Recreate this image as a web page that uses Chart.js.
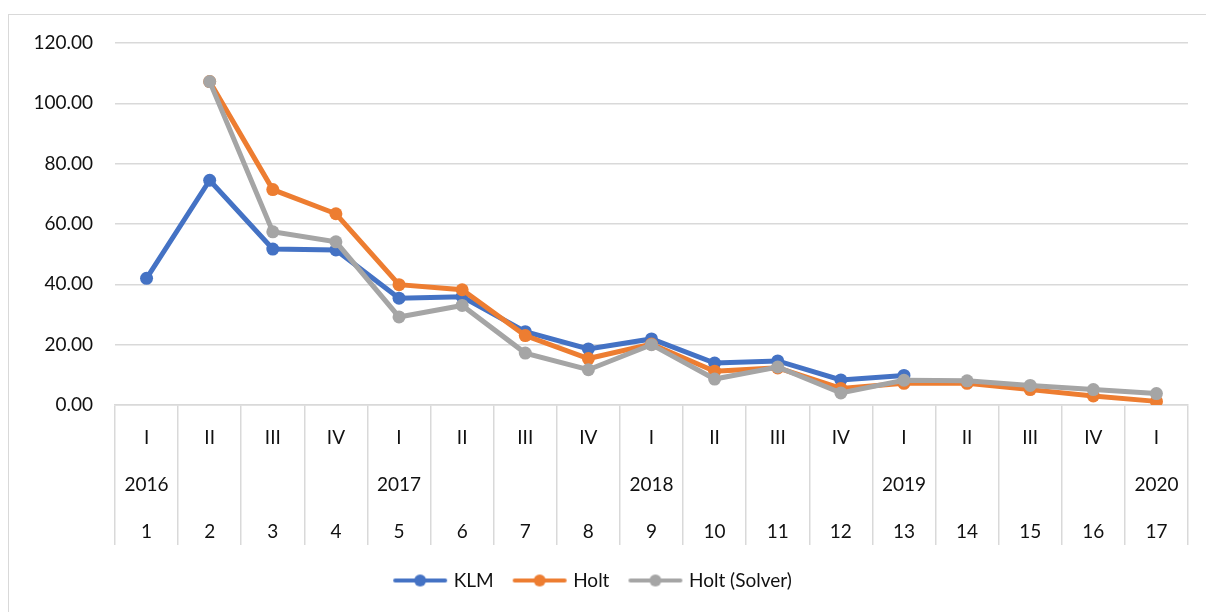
<!DOCTYPE html>
<html>
<head>
<meta charset="utf-8">
<script src="https://cdn.jsdelivr.net/npm/chart.js@4/dist/chart.umd.min.js"></script>
<style>
    body { margin: 0; background: #fff; }
    #wrap { position: relative; width: 1206px; height: 612px; overflow: hidden; }
    #frame { position: absolute; left: 8px; top: 14px; width: 1300px; height: 700px; border: 1px solid #d9d9d9; }
    #myChart { position: absolute; left: 0; top: 0; }
</style>
</head>
<body>
<div id="wrap">
    <div id="frame"></div>
    <canvas id="myChart" width="1206" height="612"></canvas>
</div>
<script>
// categories: quarter / year / period index
const quarters = ['I', 'II', 'III', 'IV', 'I', 'II', 'III', 'IV', 'I', 'II', 'III', 'IV', 'I', 'II', 'III', 'IV', 'I'],
    years = ['2016', '', '', '', '2017', '', '', '', '2018', '', '', '', '2019', '', '', '', '2020'],
    periods = ['1', '2', '3', '4', '5', '6', '7', '8', '9', '10', '11', '12', '13', '14', '15', '16', '17'],

    // series values
    klm = [42.0, 74.5, 51.7, 51.4, 35.4, 35.9, 24.3, 18.6, 21.9, 13.9, 14.6, 8.3, 9.8, null, null, null, null],
    holt = [null, 107.2, 71.4, 63.4, 39.9, 38.2, 23.0, 15.4, 20.2, 11.2, 12.3, 5.5, 7.2, 7.2, 5.1, 3.0, 1.2],
    holtSolver = [null, 107.2, 57.4, 54.1, 29.2, 33.0, 17.2, 11.7, 20.0, 8.6, 12.6, 4.0, 8.2, 8.0, 6.5, 5.1, 3.8],

    // y axis ticks
    yTicks = [0, 20, 40, 60, 80, 100, 120];

const seriesNames = ['KLM', 'Holt', 'Holt (Solver)'],
    seriesColors = ['#4472C4', '#ED7D31', '#A5A5A5'],
    fontFamily = 'Lato, "Liberation Sans", sans-serif',
    fontSize = 19,
    gridColor = '#d9d9d9';

// small line + dot swatch for the legend
function makeSwatch(color) {
    const c = document.createElement('canvas');
    c.width = 56;
    c.height = 14;
    const g = c.getContext('2d');
    g.strokeStyle = color;
    g.lineWidth = 4;
    g.lineCap = 'round';
    g.beginPath();
    g.moveTo(3, 7);
    g.lineTo(53, 7);
    g.stroke();
    g.fillStyle = color;
    g.beginPath();
    g.arc(28, 7, 6, 0, Math.PI * 2);
    g.fill();
    return c;
}

const swatches = seriesColors.map(makeSwatch);

function lineSet(i, data, order) {
    return {
        label: seriesNames[i],
        data: data,
        borderColor: seriesColors[i],
        backgroundColor: seriesColors[i],
        borderWidth: 5,
        pointRadius: 6.5,
        pointBorderWidth: 0,
        pointBackgroundColor: seriesColors[i],
        tension: 0,
        order: order
    };
}

const ctx = document.getElementById('myChart'),
    myChart = new Chart(ctx, {
        type: 'line',
        data: {
            labels: quarters.map((q, i) => [q, years[i], periods[i]]),
            datasets: [
                lineSet(0, klm, 2),
                lineSet(1, holt, 1),
                lineSet(2, holtSolver, 0)
            ]
        },
        options: {
            responsive: false,
            animation: false,
            layout: { padding: { left: 0, top: 43, right: 18, bottom: 12 } },
            scales: {
                x: {
                    offset: true,
                    afterFit: (scale) => { scale.height = 144; },
                    grid: {
                        offset: true,
                        drawOnChartArea: false,
                        drawTicks: true,
                        tickLength: 140,
                        color: gridColor,
                        lineWidth: 1.5
                    },
                    border: { color: gridColor, width: 1.5 },
                    ticks: {
                        autoSkip: false,
                        maxRotation: 0,
                        padding: -131,
                        color: '#111',
                        font: { family: fontFamily, size: fontSize, lineHeight: 47 / fontSize }
                    }
                },
                y: {
                    min: 0,
                    max: 120,
                    afterFit: (scale) => { scale.width = 115; },
                    afterBuildTicks: (scale) => { scale.ticks = yTicks.map((v) => ({ value: v })); },
                    grid: { color: gridColor, lineWidth: 1.5, drawTicks: false },
                    border: { display: false },
                    ticks: {
                        padding: 22,
                        color: '#111',
                        font: { family: fontFamily, size: fontSize },
                        callback: (v) => Number(v).toFixed(2)
                    }
                }
            },
            plugins: {
                tooltip: { enabled: false },
                legend: {
                    position: 'bottom',
                    labels: {
                        usePointStyle: true,
                        pointStyleWidth: 48,
                        padding: 22,
                        color: '#111',
                        font: { family: fontFamily, size: fontSize },
                        generateLabels: (chart) => chart.data.datasets.map((ds, i) => ({
                            text: ds.label,
                            pointStyle: swatches[i],
                            fillStyle: seriesColors[i],
                            strokeStyle: seriesColors[i],
                            lineWidth: 0,
                            fontColor: '#111',
                            hidden: false,
                            datasetIndex: i
                        }))
                    }
                }
            }
        }
    });
</script>
</body>
</html>
